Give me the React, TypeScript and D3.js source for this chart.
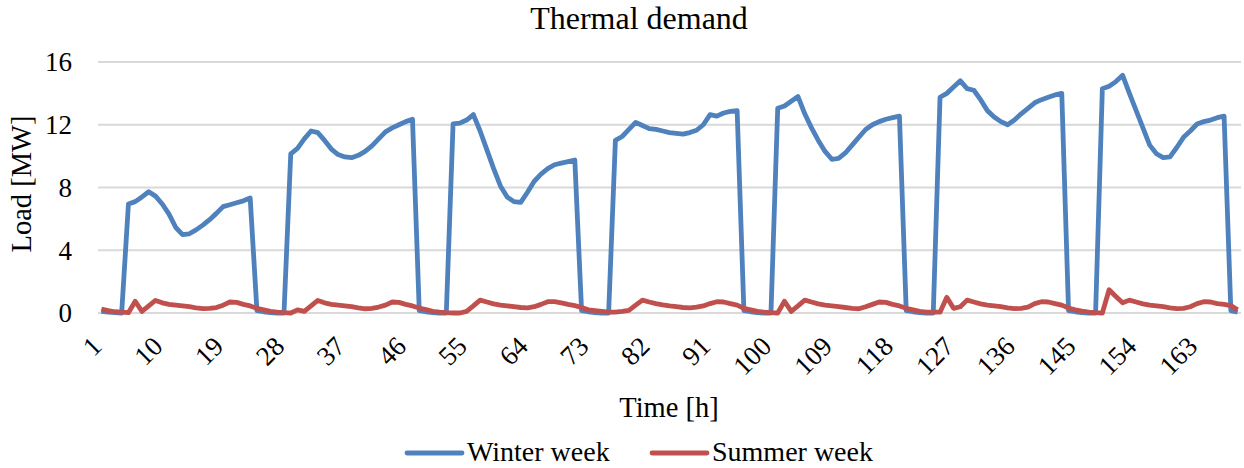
// @ts-nocheck
import * as d3 from "d3"
import { useEffect, useRef } from "react"
import * as React from "react"

// hours of the week (categories)
const hours = d3.range(1, 170)
const xTickLabels = [1, 10, 19, 28, 37, 46, 55, 64, 73, 82, 91, 100, 109, 118, 127, 136, 145, 154, 163]
const yTicks = [0, 4, 8, 12, 16]

const winterWeek = [
  0.1, 0.05, 0.02, 0, 6.95, 7.1, 7.4, 7.73, 7.45, 6.95, 6.3, 5.45, 5.0, 5.05, 5.3, 5.6, 5.95, 6.35, 6.78, 6.9, 7.03, 7.15, 7.33, 0.15,
  0.08, 0.03, 0, 0, 10.15, 10.5, 11.1, 11.6, 11.5, 11.0, 10.45, 10.1, 9.95, 9.9, 10.05, 10.3, 10.65, 11.1, 11.55, 11.8, 12.0, 12.2, 12.35, 0.15,
  0.08, 0.03, 0, 0, 12.05, 12.1, 12.3, 12.65, 11.6, 10.4, 9.2, 8.1, 7.4, 7.1, 7.05, 7.7, 8.4, 8.85, 9.2, 9.45, 9.55, 9.65, 9.75, 0.15,
  0.08, 0.03, 0, 0, 11.0, 11.25, 11.7, 12.15, 11.95, 11.75, 11.7, 11.6, 11.5, 11.45, 11.4, 11.5, 11.65, 12.0, 12.65, 12.55, 12.75, 12.85, 12.9, 0.15,
  0.08, 0.03, 0, 0, 13.05, 13.2, 13.5, 13.8, 12.7, 11.8, 11.0, 10.3, 9.8, 9.85, 10.2, 10.7, 11.2, 11.7, 12.0, 12.2, 12.35, 12.45, 12.55, 0.15,
  0.08, 0.03, 0, 0, 13.75, 14.0, 14.4, 14.8, 14.3, 14.2, 13.6, 12.9, 12.5, 12.2, 12.0, 12.3, 12.7, 13.05, 13.4, 13.6, 13.75, 13.9, 14.0, 0.15,
  0.08, 0.03, 0, 0, 14.3, 14.45, 14.75, 15.15, 14.0, 12.9, 11.8, 10.7, 10.15, 9.9, 9.95, 10.55, 11.2, 11.6, 12.05, 12.2, 12.3, 12.45, 12.55, 0.15,
  0.05,
]

const summerWeek = [
  0.25, 0.15, 0.08, 0.05, 0.02, 0.75, 0.1, 0.45, 0.8, 0.65, 0.55, 0.5, 0.45, 0.4, 0.33, 0.28, 0.3, 0.35, 0.5, 0.7, 0.68, 0.55, 0.45, 0.3,
  0.2, 0.1, 0.05, 0.02, 0.0, 0.2, 0.1, 0.45, 0.8, 0.65, 0.55, 0.5, 0.45, 0.4, 0.33, 0.27, 0.3, 0.38, 0.5, 0.7, 0.68, 0.55, 0.45, 0.32,
  0.22, 0.1, 0.05, 0.02, 0.0, 0.0, 0.1, 0.45, 0.82, 0.7, 0.58, 0.5, 0.45, 0.4, 0.35, 0.33, 0.4, 0.55, 0.72, 0.72, 0.65, 0.55, 0.47, 0.35,
  0.2, 0.15, 0.1, 0.05, 0.05, 0.1, 0.17, 0.5, 0.82, 0.7, 0.6, 0.52, 0.45, 0.4, 0.35, 0.33, 0.37, 0.45, 0.6, 0.72, 0.7, 0.6, 0.5, 0.3,
  0.2, 0.1, 0.05, 0.02, 0.0, 0.75, 0.1, 0.45, 0.82, 0.7, 0.58, 0.5, 0.45, 0.4, 0.35, 0.3, 0.27, 0.4, 0.55, 0.7, 0.68, 0.55, 0.45, 0.3,
  0.2, 0.1, 0.05, 0.05, 0.05, 1.0, 0.3, 0.4, 0.82, 0.7, 0.58, 0.5, 0.45, 0.4, 0.33, 0.28, 0.3, 0.38, 0.6, 0.72, 0.7, 0.6, 0.5, 0.32,
  0.2, 0.12, 0.05, 0.02, 0.0, 1.48, 1.05, 0.65, 0.82, 0.7, 0.58, 0.5, 0.45, 0.4, 0.33, 0.28, 0.3, 0.4, 0.6, 0.72, 0.7, 0.6, 0.55, 0.47,
  0.2,
]

const seriesNames = ["Winter week", "Summer week"]
const seriesColors = ["#4f81bd", "#c0504d"]

const FONT = "'Liberation Serif', 'Times New Roman', serif"

function buildSVG(svgEl: SVGSVGElement) {
  const width = 1244
  const height = 468
  const margin = { left: 98, right: 3, top: 62, bottom: 155 }

  const svg = d3.select(svgEl)
  svg.selectAll("*").remove()
  svg.attr("width", width).attr("height", height).style("font-family", FONT)

  const x = d3.scaleBand()
    .domain(hours)
    .range([margin.left, width - margin.right])
  const cx = h => x(h) + x.bandwidth() / 2

  const y = d3.scaleLinear()
    .domain([0, 16])
    .range([height - margin.bottom, margin.top])

  // gridlines
  svg.append("g")
    .selectAll("line")
    .data(yTicks)
    .join("line")
    .attr("x1", margin.left)
    .attr("x2", width - margin.right)
    .attr("y1", d => y(d))
    .attr("y2", d => y(d))
    .attr("stroke", "#d9d9d9")
    .attr("stroke-width", 1.8)

  // y tick labels
  svg.append("g")
    .selectAll("text")
    .data(yTicks)
    .join("text")
    .attr("x", 72)
    .attr("y", d => y(d))
    .attr("dy", "0.35em")
    .attr("text-anchor", "end")
    .style("font-size", "27px")
    .text(d => d)

  // x tick labels, rotated
  svg.append("g")
    .selectAll("text")
    .data(xTickLabels)
    .join("text")
    .attr("transform", d => `translate(${cx(d) + 2},${348}) rotate(-45)`)
    .attr("text-anchor", "end")
    .style("font-size", "27px")
    .text(d => d)

  // lines
  const line = d3.line()
    .x((d, i) => cx(hours[i]))
    .y(d => y(d))

  ;[winterWeek, summerWeek].forEach((values, k) => {
    svg.append("path")
      .datum(values)
      .attr("fill", "none")
      .attr("stroke", seriesColors[k])
      .attr("stroke-width", 4.8)
      .attr("stroke-linejoin", "round")
      .attr("d", line)
  })

  // title
  svg.append("text")
    .attr("x", 639)
    .attr("y", 29)
    .attr("text-anchor", "middle")
    .style("font-size", "32px")
    .text("Thermal demand")

  // axis titles
  svg.append("text")
    .attr("x", 669)
    .attr("y", 417)
    .attr("text-anchor", "middle")
    .style("font-size", "28.5px")
    .text("Time [h]")

  svg.append("text")
    .attr("transform", "translate(31,184) rotate(-90)")
    .attr("text-anchor", "middle")
    .style("font-size", "28.5px")
    .text("Load [MW]")

  // legend
  const legendX = [407, 652]
  const legend = svg.append("g")
    .selectAll("g")
    .data(seriesNames)
    .join("g")
    .attr("transform", (d, i) => `translate(${legendX[i]},453)`)
  legend.append("line")
    .attr("x1", 0)
    .attr("x2", 55)
    .attr("stroke", (d, i) => seriesColors[i])
    .attr("stroke-width", 4.8)
    .attr("stroke-linecap", "round")
  legend.append("text")
    .attr("x", 60)
    .attr("y", 8)
    .style("font-size", "28px")
    .text(d => d)
}

export default function App() {
  const svgRef = useRef<SVGSVGElement>(null)
  useEffect(() => {
    buildSVG(svgRef.current)
  }, [])
  return <svg ref={svgRef} style={{ position: "absolute", left: 0, top: 0, background: "#fff" }} />
}
